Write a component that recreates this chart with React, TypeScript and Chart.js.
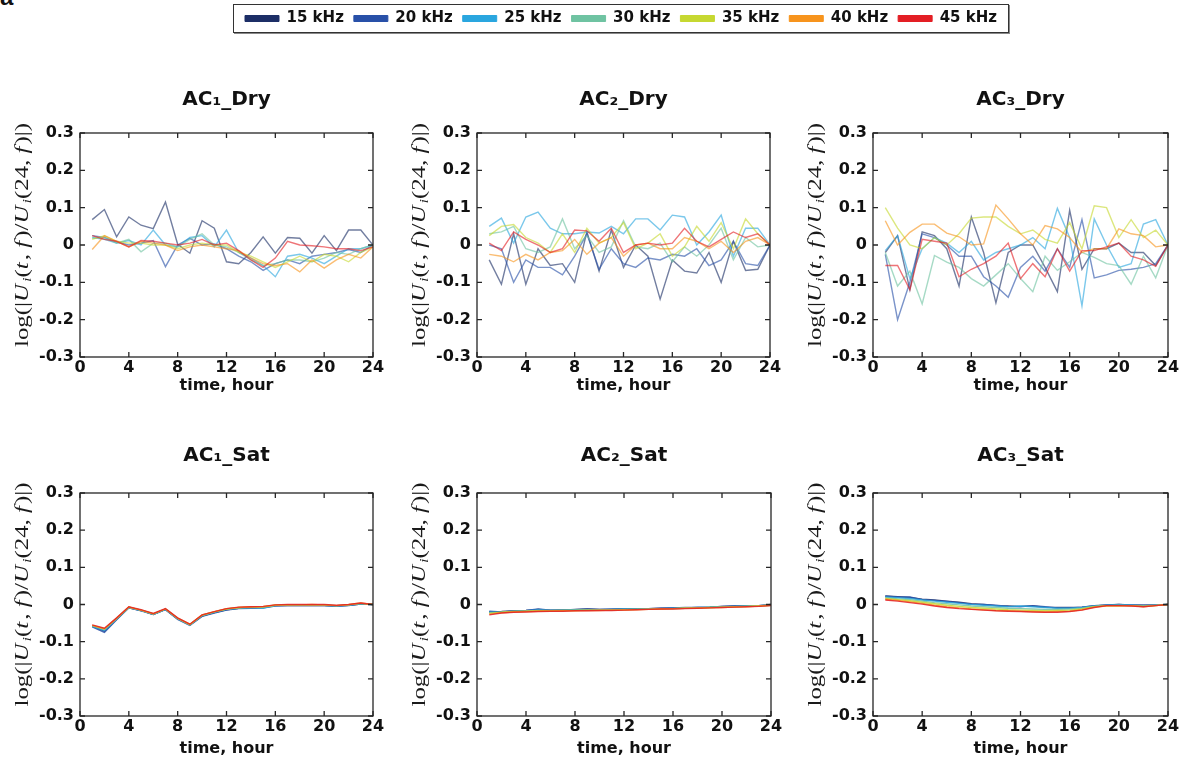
import React, { useEffect, useRef } from 'react';
import { Chart, registerables } from 'chart.js';

Chart.register(...registerables);

// ---------- data ----------
const HOURS = [1, 2, 3, 4, 5, 6, 7, 8, 9, 10, 11, 12, 13, 14, 15, 16, 17, 18, 19, 20, 21, 22, 23, 24];
const FREQ_LABELS = ['15 kHz', '20 kHz', '25 kHz', '30 kHz', '35 kHz', '40 kHz', '45 kHz'];
const FREQ_COLORS = ['#1c2e66', '#2850a8', '#2aa6df', '#6fc3a2', '#c6d831', '#f7941d', '#e31e24'];
const PANEL_TITLES = ['AC\u2081_Dry', 'AC\u2082_Dry', 'AC\u2083_Dry', 'AC\u2081_Sat', 'AC\u2082_Sat', 'AC\u2083_Sat'];
const X_TITLE = 'time, hour';
const Y_LABEL_PARTS: [string, string][] = [
  ['log(|', 'n'], ['U', 'i'], ['i', 's'], ['(', 'n'], ['t', 'i'], [', ', 'n'], ['f', 'i'], [')/', 'n'],
  ['U', 'i'], ['i', 's'], ['(24, ', 'n'], ['f', 'i'], [')|)', 'n'],
];

const AC1_DRY = [
  [0.068, 0.095, 0.022, 0.075, 0.053, 0.044, 0.115, 0.002, -0.022, 0.065, 0.045, -0.045, -0.05, -0.02, 0.022, -0.022, 0.02, 0.018, -0.022, 0.025, -0.015, 0.04, 0.04, 0.0],
  [0.025, 0.02, 0.008, 0.0, 0.005, 0.012, -0.058, 0.0, 0.018, 0.0, 0.003, -0.01, -0.03, -0.045, -0.068, -0.05, -0.04, -0.05, -0.03, -0.025, -0.02, -0.012, -0.02, 0.0],
  [0.02, 0.015, 0.005, 0.012, 0.0, 0.04, 0.0, -0.005, 0.02, 0.025, -0.005, 0.04, -0.02, -0.035, -0.055, -0.085, -0.03, -0.025, -0.035, -0.05, -0.03, -0.01, -0.01, 0.0],
  [0.018, 0.02, 0.005, 0.015, -0.018, 0.005, 0.005, -0.005, 0.015, 0.03, 0.0, -0.005, -0.02, -0.04, -0.055, -0.05, -0.04, -0.04, -0.045, -0.035, -0.02, -0.025, -0.01, 0.0],
  [0.015, 0.025, 0.01, 0.005, 0.005, 0.0, 0.0, -0.01, 0.0, 0.005, 0.0, 0.0, -0.02, -0.03, -0.045, -0.06, -0.045, -0.03, -0.045, -0.025, -0.03, -0.045, -0.02, -0.005],
  [-0.012, 0.025, 0.01, -0.005, 0.01, 0.005, 0.0, -0.015, -0.005, 0.0, -0.005, -0.01, -0.015, -0.035, -0.05, -0.055, -0.05, -0.072, -0.04, -0.062, -0.04, -0.025, -0.035, -0.005],
  [0.025, 0.015, 0.01, -0.005, 0.012, 0.01, 0.005, 0.0, 0.005, 0.015, 0.0, 0.005, -0.015, -0.04, -0.06, -0.035, 0.01, 0.0, -0.002, -0.005, -0.01, -0.01, -0.015, -0.005],
];

const AC2_DRY = [
  [-0.04, -0.105, 0.03, -0.105, -0.01, -0.055, -0.05, -0.1, 0.035, -0.07, 0.04, -0.06, 0.0, -0.03, -0.145, -0.04, -0.07, -0.075, -0.02, -0.1, 0.01, -0.068, -0.065, 0.0],
  [0.0, -0.01, -0.1, -0.04, -0.06, -0.06, -0.08, -0.03, 0.03, -0.065, -0.01, -0.05, -0.06, -0.035, -0.04, -0.025, -0.03, -0.01, -0.055, -0.04, 0.01, -0.05, -0.055, 0.0],
  [0.05, 0.072, 0.005, 0.075, 0.088, 0.045, 0.03, 0.03, 0.035, 0.032, 0.05, 0.03, 0.07, 0.07, 0.04, 0.08, 0.075, 0.0, 0.035, 0.08, -0.03, 0.045, 0.045, 0.0],
  [0.03, 0.035, 0.05, -0.01, -0.02, -0.005, 0.07, -0.01, 0.025, -0.02, -0.005, 0.065, -0.005, -0.01, 0.005, -0.045, -0.005, -0.03, 0.0, 0.045, -0.04, 0.02, -0.005, 0.0],
  [0.025, 0.05, 0.055, 0.02, 0.005, -0.02, 0.03, -0.02, 0.045, 0.005, 0.02, 0.06, -0.01, 0.005, 0.03, -0.03, -0.005, 0.05, 0.01, 0.06, -0.01, 0.07, 0.03, 0.0],
  [-0.025, -0.03, -0.045, -0.025, -0.04, -0.02, -0.015, 0.015, -0.025, 0.005, 0.02, -0.03, 0.0, 0.005, -0.01, -0.01, 0.02, 0.01, -0.01, 0.01, -0.02, 0.01, 0.02, 0.0],
  [0.005, -0.015, 0.035, 0.015, 0.0, -0.02, -0.01, 0.04, 0.038, 0.01, 0.045, -0.02, 0.0, 0.005, 0.0, 0.005, 0.045, 0.01, -0.005, 0.015, 0.035, 0.02, 0.03, 0.0],
];

const AC3_DRY = [
  [-0.02, 0.025, -0.12, 0.035, 0.025, -0.01, -0.11, 0.075, -0.02, -0.155, -0.02, 0.0, 0.0, -0.06, -0.125, 0.093, -0.065, -0.01, -0.01, 0.005, -0.02, -0.02, -0.055, 0.0],
  [-0.025, -0.2, -0.1, 0.03, 0.02, 0.0, -0.03, -0.03, -0.085, -0.11, -0.14, -0.06, -0.03, -0.07, -0.01, -0.06, 0.068, -0.088, -0.08, -0.068, -0.065, -0.06, -0.05, 0.0],
  [-0.015, 0.025, -0.09, -0.01, 0.02, 0.005, -0.02, 0.01, -0.04, -0.02, -0.01, 0.0, 0.02, -0.01, 0.098, 0.02, -0.163, 0.07, 0.0, -0.06, -0.05, 0.056, 0.068, 0.0],
  [-0.02, -0.11, -0.07, -0.158, -0.028, -0.046, -0.06, -0.09, -0.11, -0.08, -0.05, -0.09, -0.125, -0.03, -0.068, -0.045, -0.02, -0.033, -0.05, -0.055, -0.105, -0.03, -0.088, 0.0],
  [0.1, 0.045, 0.0, -0.01, 0.02, 0.0, 0.03, 0.072, 0.075, 0.075, 0.05, 0.03, 0.04, 0.015, 0.005, 0.06, -0.01, 0.105, 0.1, 0.02, 0.068, 0.02, 0.04, 0.0],
  [0.065, 0.0, 0.034, 0.056, 0.056, 0.032, 0.022, 0.0, 0.003, 0.107, 0.07, 0.03, 0.0, 0.052, 0.043, 0.02, -0.02, -0.01, -0.01, 0.043, 0.03, 0.025, -0.005, 0.0],
  [-0.055, -0.055, -0.12, 0.015, 0.01, 0.005, -0.085, -0.065, -0.05, -0.03, 0.005, -0.09, -0.05, -0.085, -0.01, -0.07, -0.015, -0.015, -0.005, 0.005, -0.03, -0.04, -0.057, 0.0],
];

const AC1_SAT = [
  [-0.058, -0.072, -0.04, -0.009, -0.016, -0.027, -0.013, -0.039, -0.055, -0.031, -0.022, -0.014, -0.01, -0.009, -0.008, -0.003, -0.003, -0.003, -0.002, -0.003, -0.004, -0.002, 0.001, 0.0],
  [-0.06, -0.075, -0.041, -0.009, -0.017, -0.027, -0.014, -0.04, -0.056, -0.032, -0.023, -0.015, -0.011, -0.01, -0.009, -0.004, -0.003, -0.003, -0.003, -0.003, -0.005, -0.003, 0.001, 0.0],
  [-0.059, -0.07, -0.039, -0.008, -0.016, -0.026, -0.013, -0.038, -0.055, -0.03, -0.021, -0.013, -0.01, -0.008, -0.01, -0.003, -0.002, -0.002, -0.002, -0.002, -0.004, -0.002, 0.002, 0.0],
  [-0.057, -0.067, -0.038, -0.008, -0.015, -0.026, -0.012, -0.038, -0.054, -0.029, -0.02, -0.012, -0.009, -0.008, -0.007, -0.002, -0.002, -0.001, -0.002, -0.002, -0.003, -0.001, 0.003, 0.0],
  [-0.056, -0.066, -0.037, -0.007, -0.015, -0.025, -0.012, -0.037, -0.054, -0.029, -0.02, -0.012, -0.008, -0.007, -0.006, -0.002, -0.001, -0.001, -0.001, -0.001, -0.003, -0.001, 0.003, 0.0],
  [-0.056, -0.065, -0.037, -0.007, -0.015, -0.025, -0.012, -0.037, -0.053, -0.028, -0.019, -0.011, -0.008, -0.006, -0.006, -0.001, -0.001, -0.001, 0.0, -0.001, -0.003, 0.0, 0.004, 0.0],
  [-0.055, -0.064, -0.036, -0.006, -0.014, -0.024, -0.011, -0.036, -0.053, -0.028, -0.019, -0.011, -0.007, -0.006, -0.005, -0.001, 0.0, 0.0, 0.0, 0.0, -0.002, 0.0, 0.004, 0.0],
];

const AC2_SAT = [
  [-0.02, -0.019, -0.017, -0.016, -0.013, -0.015, -0.015, -0.013, -0.012, -0.013, -0.013, -0.011, -0.011, -0.011, -0.01, -0.009, -0.009, -0.008, -0.007, -0.005, -0.004, -0.004, -0.003, 0.0],
  [-0.018, -0.02, -0.018, -0.016, -0.012, -0.015, -0.014, -0.014, -0.012, -0.013, -0.012, -0.011, -0.012, -0.011, -0.01, -0.009, -0.008, -0.008, -0.007, -0.005, -0.004, -0.003, -0.003, -0.001],
  [-0.021, -0.02, -0.018, -0.017, -0.015, -0.016, -0.015, -0.014, -0.014, -0.014, -0.013, -0.012, -0.012, -0.011, -0.011, -0.01, -0.009, -0.008, -0.007, -0.006, -0.005, -0.004, -0.003, -0.001],
  [-0.022, -0.021, -0.019, -0.018, -0.016, -0.016, -0.016, -0.015, -0.015, -0.014, -0.014, -0.013, -0.013, -0.012, -0.011, -0.011, -0.01, -0.009, -0.008, -0.007, -0.006, -0.005, -0.004, -0.002],
  [-0.024, -0.021, -0.019, -0.018, -0.017, -0.017, -0.016, -0.016, -0.015, -0.015, -0.015, -0.014, -0.013, -0.013, -0.012, -0.011, -0.01, -0.009, -0.008, -0.007, -0.006, -0.005, -0.004, -0.002],
  [-0.026, -0.022, -0.02, -0.019, -0.018, -0.018, -0.017, -0.017, -0.016, -0.016, -0.015, -0.015, -0.014, -0.013, -0.012, -0.011, -0.01, -0.01, -0.009, -0.008, -0.007, -0.006, -0.004, -0.002],
  [-0.028, -0.023, -0.021, -0.02, -0.019, -0.018, -0.018, -0.017, -0.017, -0.016, -0.016, -0.015, -0.014, -0.013, -0.012, -0.012, -0.011, -0.01, -0.009, -0.008, -0.007, -0.006, -0.005, -0.003],
];

const AC3_SAT = [
  [0.023, 0.021, 0.019, 0.014, 0.012, 0.009, 0.006, 0.002, 0.0, -0.003, -0.004, -0.005, -0.004, -0.007, -0.008, -0.008, -0.007, -0.003, -0.001, 0.0, -0.001, -0.002, -0.001, 0.0],
  [0.022, 0.02, 0.02, 0.013, 0.011, 0.008, 0.005, 0.001, 0.0, -0.002, -0.005, -0.006, -0.003, -0.006, -0.009, -0.009, -0.007, -0.004, -0.002, 0.0, -0.002, -0.002, -0.002, 0.0],
  [0.02, 0.018, 0.016, 0.012, 0.009, 0.006, 0.003, 0.0, -0.002, -0.004, -0.006, -0.004, -0.006, -0.008, -0.01, -0.01, -0.008, -0.004, -0.002, -0.001, -0.001, -0.003, -0.002, 0.0],
  [0.018, 0.015, 0.013, 0.009, 0.005, 0.002, -0.001, -0.004, -0.006, -0.008, -0.01, -0.011, -0.012, -0.013, -0.013, -0.012, -0.01, -0.005, -0.003, -0.002, -0.003, -0.004, -0.002, 0.0],
  [0.016, 0.013, 0.01, 0.006, 0.002, -0.002, -0.005, -0.008, -0.01, -0.012, -0.014, -0.015, -0.016, -0.017, -0.016, -0.015, -0.012, -0.006, -0.003, -0.003, -0.003, -0.005, -0.003, 0.0],
  [0.014, 0.011, 0.007, 0.003, -0.002, -0.006, -0.009, -0.012, -0.014, -0.016, -0.017, -0.018, -0.019, -0.02, -0.019, -0.018, -0.014, -0.007, -0.004, -0.004, -0.003, -0.006, -0.003, 0.0],
  [0.012, 0.009, 0.005, 0.001, -0.004, -0.008, -0.011, -0.013, -0.015, -0.017, -0.018, -0.019, -0.02, -0.021, -0.021, -0.019, -0.015, -0.008, -0.003, -0.003, -0.004, -0.006, -0.003, 0.0],
];

const PANEL_DATA = [AC1_DRY, AC2_DRY, AC3_DRY, AC1_SAT, AC2_SAT, AC3_SAT];

// ---------- layout (page pixels of each plot area) ----------
const PLOT_RECTS = [
  { left: 80, top: 133, width: 293, height: 224, row: 0 },
  { left: 477, top: 133, width: 293, height: 224, row: 0 },
  { left: 873, top: 133, width: 295, height: 224, row: 0 },
  { left: 80, top: 493, width: 293, height: 223, row: 1 },
  { left: 477, top: 493, width: 294, height: 223, row: 1 },
  { left: 873, top: 493, width: 295, height: 223, row: 1 },
];
const Y_AXIS_W = 80;
const TOP_H = 63;
const X_AXIS_H = 45;
const RIGHT_PAD = 14;

const BOLD_FONT = '"DejaVu Sans", "Liberation Sans", Arial, sans-serif';
const SERIF_FONT = '"Liberation Serif", "DejaVu Serif", serif';

function rgba(hex: string, a: number) {
  const n = parseInt(hex.slice(1), 16);
  return `rgba(${(n >> 16) & 255}, ${(n >> 8) & 255}, ${n & 255}, ${a})`;
}

const frameTicksPlugin = {
  id: 'frameTicks',
  afterDraw(chart: any) {
    const { ctx, chartArea: a, scales } = chart;
    ctx.save();
    ctx.strokeStyle = '#262626';
    ctx.lineWidth = 1.3;
    ctx.strokeRect(a.left, a.top, a.right - a.left, a.bottom - a.top);
    const len = 5;
    ctx.beginPath();
    scales.x.ticks.forEach((t: any) => {
      const x = scales.x.getPixelForValue(t.value);
      ctx.moveTo(x, a.bottom);
      ctx.lineTo(x, a.bottom - len);
      ctx.moveTo(x, a.top);
      ctx.lineTo(x, a.top + len);
    });
    scales.y.ticks.forEach((t: any) => {
      const y = scales.y.getPixelForValue(t.value);
      ctx.moveTo(a.left, y);
      ctx.lineTo(a.left + len, y);
      ctx.moveTo(a.right, y);
      ctx.lineTo(a.right - len, y);
    });
    ctx.stroke();
    ctx.restore();
  },
};

const yLabelPlugin = {
  id: 'yLabel',
  afterDraw(chart: any) {
    const { ctx, chartArea: a } = chart;
    const size = 18;
    const fonts: Record<string, string> = {
      n: `${size}px ${SERIF_FONT}`,
      i: `italic ${size}px ${SERIF_FONT}`,
      s: `italic ${Math.round(size * 0.68)}px ${SERIF_FONT}`,
    };
    ctx.save();
    let total = 0;
    const widths = Y_LABEL_PARTS.map(([t, k]) => {
      ctx.font = fonts[k];
      const w = ctx.measureText(t).width + (k === 'i' ? 1.5 : 0);
      total += w;
      return w;
    });
    const target = 224;
    const s = target / total;
    ctx.translate(a.left - 57, (a.top + a.bottom) / 2 - 10);
    ctx.rotate(-Math.PI / 2);
    ctx.scale(s, 1);
    ctx.fillStyle = '#1a1a1a';
    ctx.textBaseline = 'middle';
    ctx.textAlign = 'left';
    let x = -total / 2;
    Y_LABEL_PARTS.forEach(([t, k], i) => {
      ctx.font = fonts[k];
      ctx.fillText(t, x, k === 's' ? 5 : 0);
      x += widths[i];
    });
    ctx.restore();
  },
};

function tickLabel(v: any) {
  const n = Number(v);
  if (Math.abs(n) < 1e-9) return '0';
  return n.toFixed(1);
}

function Panel({ index }: { index: number }) {
  const ref = useRef<HTMLCanvasElement>(null);
  const rect = PLOT_RECTS[index];
  const cw = Y_AXIS_W + rect.width + RIGHT_PAD;
  const ch = TOP_H + rect.height + X_AXIS_H;
  useEffect(() => {
    const values = PANEL_DATA[index];
    const alpha = rect.row === 0 ? 0.62 : 0.85;
    const titlePadTop = rect.row === 0 ? 18 : 14;
    const xTitlePadBottom = rect.row === 0 ? 7 : 3;
    const chart = new Chart(ref.current as HTMLCanvasElement, {
      type: 'line',
      data: {
        datasets: values.map((series, i) => ({
          label: FREQ_LABELS[i],
          data: HOURS.map((h, j) => ({ x: h, y: series[j] })),
          borderColor: rgba(FREQ_COLORS[i], alpha),
          backgroundColor: FREQ_COLORS[i],
          borderWidth: 1.4,
          pointRadius: 0,
          tension: 0,
          fill: false,
          order: FREQ_LABELS.length - 1 - i,
        })),
      },
      options: {
        responsive: false,
        animation: false,
        events: [],
        layout: { padding: { left: 0, right: RIGHT_PAD, top: 0, bottom: 0 } },
        plugins: {
          legend: { display: false },
          tooltip: { enabled: false },
          title: {
            display: true,
            text: PANEL_TITLES[index],
            fullSize: false,
            color: '#111',
            font: { family: BOLD_FONT, weight: 'bold', size: 20, lineHeight: 1.2 },
            padding: { top: titlePadTop, bottom: TOP_H - 24 - titlePadTop },
          },
        },
        scales: {
          x: {
            type: 'linear',
            min: 0,
            max: 24,
            grid: { display: false, drawTicks: false, tickLength: 0 },
            border: { display: false },
            ticks: {
              stepSize: 4,
              autoSkip: false,
              maxRotation: 0,
              padding: 1,
              color: '#111',
              font: { family: BOLD_FONT, weight: 'bold', size: 16, lineHeight: 1.2 },
            },
            title: {
              display: true,
              text: X_TITLE,
              color: '#111',
              font: { family: BOLD_FONT, weight: 'bold', size: 16, lineHeight: 1.2 },
              padding: { top: 0, bottom: xTitlePadBottom },
            },
            afterFit: (scale: any) => {
              scale.height = X_AXIS_H;
            },
          },
          y: {
            type: 'linear',
            min: -0.3,
            max: 0.3,
            grid: { display: false, drawTicks: false, tickLength: 0 },
            border: { display: false },
            ticks: {
              stepSize: 0.1,
              padding: 6,
              color: '#111',
              font: { family: BOLD_FONT, weight: 'bold', size: 16, lineHeight: 1.2 },
              callback: tickLabel,
            },
            afterFit: (scale: any) => {
              scale.width = Y_AXIS_W;
            },
          },
        },
      } as any,
      plugins: [frameTicksPlugin, yLabelPlugin],
    });
    return () => chart.destroy();
  }, [index]);
  return (
    <canvas
      ref={ref}
      width={cw}
      height={ch}
      style={{
        position: 'absolute',
        left: rect.left - Y_AXIS_W,
        top: rect.top - TOP_H,
        width: cw,
        height: ch,
      }}
    />
  );
}

function LegendBox() {
  const ref = useRef<HTMLCanvasElement>(null);
  const w = 774;
  useEffect(() => {
    const chart = new Chart(ref.current as HTMLCanvasElement, {
      type: 'line',
      data: {
        datasets: FREQ_LABELS.map((l, i) => ({
          label: l,
          data: [],
          borderColor: FREQ_COLORS[i],
          backgroundColor: FREQ_COLORS[i],
          borderWidth: 1,
        })),
      },
      options: {
        responsive: false,
        animation: false,
        events: [],
        layout: { padding: 0 },
        scales: { x: { display: false }, y: { display: false } },
        plugins: {
          tooltip: { enabled: false },
          legend: {
            display: true,
            position: 'top',
            labels: {
              boxWidth: 34,
              boxHeight: 6,
              padding: 10,
              color: '#111',
              font: { family: BOLD_FONT, weight: 'bold', size: 15 },
            },
          },
        },
      } as any,
    });
    return () => chart.destroy();
  }, []);
  return (
    <div
      style={{
        position: 'absolute',
        left: 233,
        top: 4,
        width: w,
        height: 27,
        border: '1px solid #333',
        boxShadow: '1px 1px 0 #888',
        overflow: 'hidden',
        background: '#fff',
      }}
    >
      <canvas
        ref={ref}
        width={w}
        height={60}
        style={{ position: 'absolute', left: 0, top: -4, width: w, height: 60 }}
      />
    </div>
  );
}

export default function App() {
  return (
    <div
      style={{
        position: 'absolute',
        left: 0,
        top: 0,
        width: 1189,
        height: 764,
        background: '#fff',
        overflow: 'hidden',
      }}
    >
      <div
        style={{
          position: 'absolute',
          left: 0,
          top: -15,
          fontFamily: '"Liberation Sans", Arial, sans-serif',
          fontWeight: 'bold',
          fontSize: 24,
          lineHeight: '24px',
          color: '#111',
        }}
      >
        a
      </div>
      <LegendBox />
      {PLOT_RECTS.map((_, i) => (
        <Panel key={i} index={i} />
      ))}
    </div>
  );
}
